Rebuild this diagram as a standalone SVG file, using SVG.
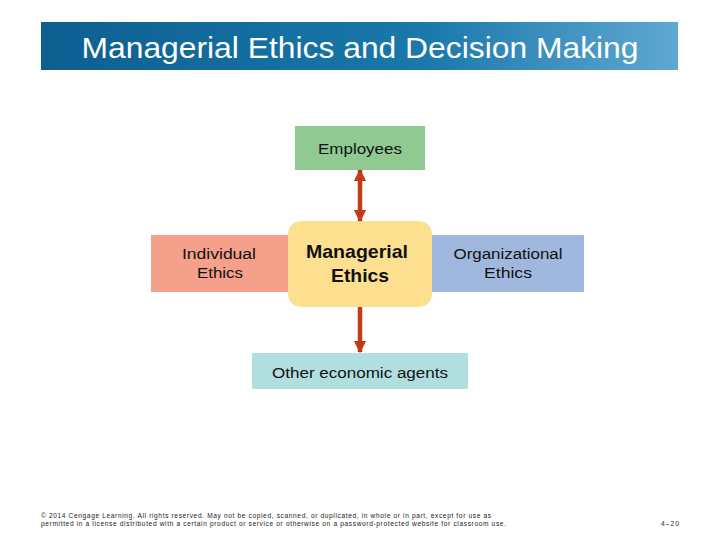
<svg xmlns="http://www.w3.org/2000/svg" width="720" height="540" viewBox="0 0 720 540">
<defs>
<linearGradient id="ban" x1="0" y1="0" x2="1" y2="0">
<stop offset="0" stop-color="#0d5f90"/>
<stop offset="0.6" stop-color="#1a78ab"/>
<stop offset="1" stop-color="#5fa8d2"/>
</linearGradient>
<marker id="ah" viewBox="0 0 10 10" refX="9" refY="5" markerWidth="2.8" markerHeight="2.9" orient="auto-start-reverse" markerUnits="strokeWidth">
<path d="M0,0 L10,5 L0,10 Z" fill="#c23b18"/>
</marker>
</defs>
<style>
.t{font-family:"Liberation Sans",Arial,sans-serif;fill:#111;text-anchor:middle}
.n{font-size:15.5px}
.c{stroke:#c23b18;stroke-width:4.5;fill:none}
.f{font-family:"Liberation Sans",Arial,sans-serif;font-size:6.6px;fill:#222}
</style>
<rect width="720" height="540" fill="#fff"/>
<g id="title">
<rect x="41" y="22" width="637" height="48" fill="url(#ban)"/>
<text x="360" y="58" font-family="Liberation Sans,Arial,sans-serif" font-size="30" fill="#fff" text-anchor="middle" textLength="557" lengthAdjust="spacingAndGlyphs">Managerial Ethics and Decision Making</text>
</g>
<g id="individual">
<rect x="151" y="235" width="145" height="57" fill="#f4a08b"/>
<text class="t n" x="219" y="259" textLength="74" lengthAdjust="spacingAndGlyphs">Individual</text>
<text class="t n" x="220" y="278" textLength="46" lengthAdjust="spacingAndGlyphs">Ethics</text>
</g>
<g id="organizational">
<rect x="424" y="235" width="160" height="57" fill="#a1b8de"/>
<text class="t n" x="508" y="259" textLength="109" lengthAdjust="spacingAndGlyphs">Organizational</text>
<text class="t n" x="508" y="278" textLength="48" lengthAdjust="spacingAndGlyphs">Ethics</text>
</g>
<g id="employees">
<rect x="295" y="126" width="130" height="44" fill="#90ca92"/>
<text class="t n" x="360" y="154" textLength="84" lengthAdjust="spacingAndGlyphs">Employees</text>
</g>
<g id="managerial">
<rect x="288" y="221" width="144" height="86" rx="13" fill="#fde08f"/>
<text class="t" x="357" y="258" font-size="18.5" font-weight="bold" textLength="102" lengthAdjust="spacingAndGlyphs">Managerial</text>
<text class="t" x="360" y="282" font-size="18.5" font-weight="bold" textLength="58" lengthAdjust="spacingAndGlyphs">Ethics</text>
</g>
<g id="other">
<rect x="252" y="353" width="216" height="36" fill="#b1dfe0"/>
<text class="t n" x="360" y="378" textLength="176" lengthAdjust="spacingAndGlyphs">Other economic agents</text>
</g>
<g id="connectors">
<line class="c" x1="360" y1="170" x2="360" y2="221" marker-start="url(#ah)" marker-end="url(#ah)"/>
<line class="c" x1="360" y1="307" x2="360" y2="352" marker-end="url(#ah)"/>
</g>
<g id="footer">
<text class="f" x="41" y="518" textLength="450">© 2014 Cengage Learning. All rights reserved. May not be copied, scanned, or duplicated, in whole or in part, except for use as</text>
<text class="f" x="41" y="526" textLength="465">permitted in a license distributed with a certain product or service or otherwise on a password-protected website for classroom use.</text>
<text class="f" x="661" y="526" textLength="18">4–20</text>
</g>
</svg>
